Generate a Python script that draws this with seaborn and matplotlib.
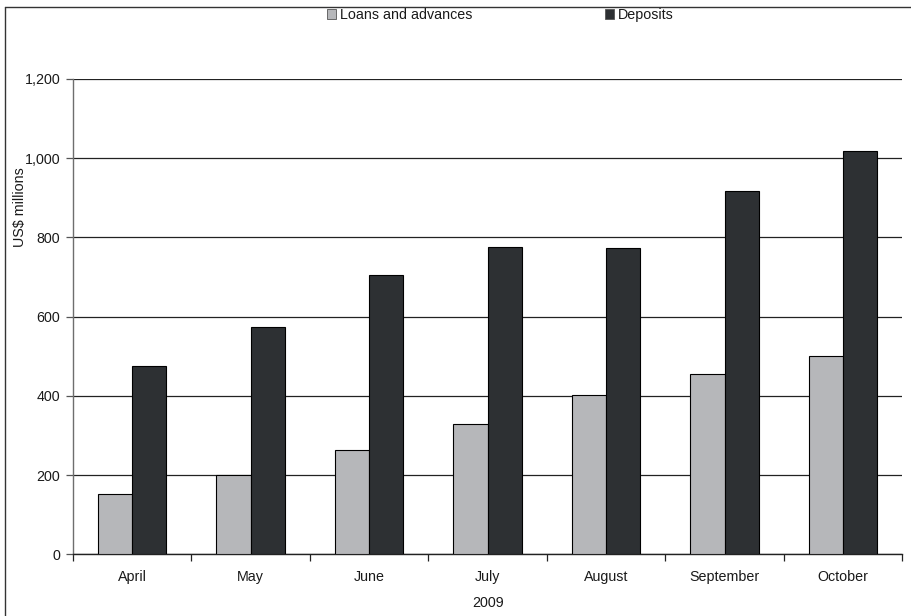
import matplotlib
matplotlib.use("Agg")
import matplotlib.pyplot as plt
import matplotlib.patches as mpatches
from matplotlib.lines import Line2D
import numpy as np
import pandas as pd
import seaborn as sns

months = ["April", "May", "June", "July", "August", "September", "October"]
loans = [152, 200, 263, 329, 401, 454, 500]
deposits = [476, 574, 706, 776, 773, 918, 1018]
series_names = ["Loans and advances", "Deposits"]
yticks = [0, 200, 400, 600, 800, 1000, 1200]
ytick_labels = ["0", "200", "400", "600", "800", "1,000", "1,200"]

loan_color = "#b6b7ba"
deposit_color = "#2d3033"

df = pd.DataFrame({
    "month": months * 2,
    "series": [series_names[0]] * len(months) + [series_names[1]] * len(months),
    "value": loans + deposits,
})

sns.set_theme(style="white")
plt.rcParams["font.family"] = ["Liberation Sans", "DejaVu Sans"]

fig = plt.figure(figsize=(9.11, 6.16), dpi=100)
ax = fig.add_axes([0.0801, 0.1002, 0.9104, 0.7716])

sns.barplot(
    data=df, x="month", y="value", hue="series", order=months,
    hue_order=series_names, palette=[loan_color, deposit_color],
    width=0.578, gap=0, edgecolor="black", linewidth=0.8,
    saturation=1, legend=False, ax=ax, zorder=3,
)

ax.set_ylim(0, 1200)
ax.set_xlim(-0.5, len(months) - 0.5)
ax.set_yticks(yticks)
ax.set_yticklabels(ytick_labels)
ax.yaxis.grid(True, color="#222222", linewidth=0.9)
ax.set_axisbelow(True)

# category separators as minor ticks on x
ax.set_xticks(np.arange(-0.5, len(months), 1.0), minor=True)
ax.tick_params(axis="x", which="major", length=0, pad=11, labelsize=10.3, colors="#1a1a1a")
ax.tick_params(axis="x", which="minor", length=5, width=0.9, direction="out", color="#222222", bottom=True)
ax.tick_params(axis="y", which="major", length=5, width=0.9, direction="out", color="#555555",
               left=True, labelsize=10.3, labelcolor="#1a1a1a", pad=4)

for side in ["top", "right"]:
    ax.spines[side].set_visible(False)
ax.spines["left"].set_color("#6e6e6e")
ax.spines["left"].set_linewidth(1.0)
ax.spines["bottom"].set_color("#222222")
ax.spines["bottom"].set_linewidth(1.0)

ax.set_xlabel("2009", fontsize=10.3, color="#1a1a1a", labelpad=9)
ax.set_ylabel("US$ millions", fontsize=10.3, color="#1a1a1a")
ax.yaxis.set_label_coords(-0.056, 0.73)

handles = [
    mpatches.Patch(facecolor=loan_color, edgecolor="#555555", linewidth=0.6),
    mpatches.Patch(facecolor=deposit_color, edgecolor="#555555", linewidth=0.6),
]
fig.legend(handles, series_names, loc="center", bbox_to_anchor=(0.549, 0.976), ncol=2,
           frameon=False, fontsize=10.3, handlelength=0.65, handleheight=0.65,
           handletextpad=0.25, columnspacing=9.3, labelcolor="#1a1a1a")

# outer frame on the left and top edges
fig.add_artist(Line2D([5 / 911, 5 / 911], [0, 1 - 7 / 616], transform=fig.transFigure,
                      color="#333333", linewidth=1.0))
fig.add_artist(Line2D([5 / 911, 1], [1 - 7 / 616, 1 - 7 / 616], transform=fig.transFigure,
                      color="#333333", linewidth=1.0))

fig.savefig("out.png", dpi=100)
